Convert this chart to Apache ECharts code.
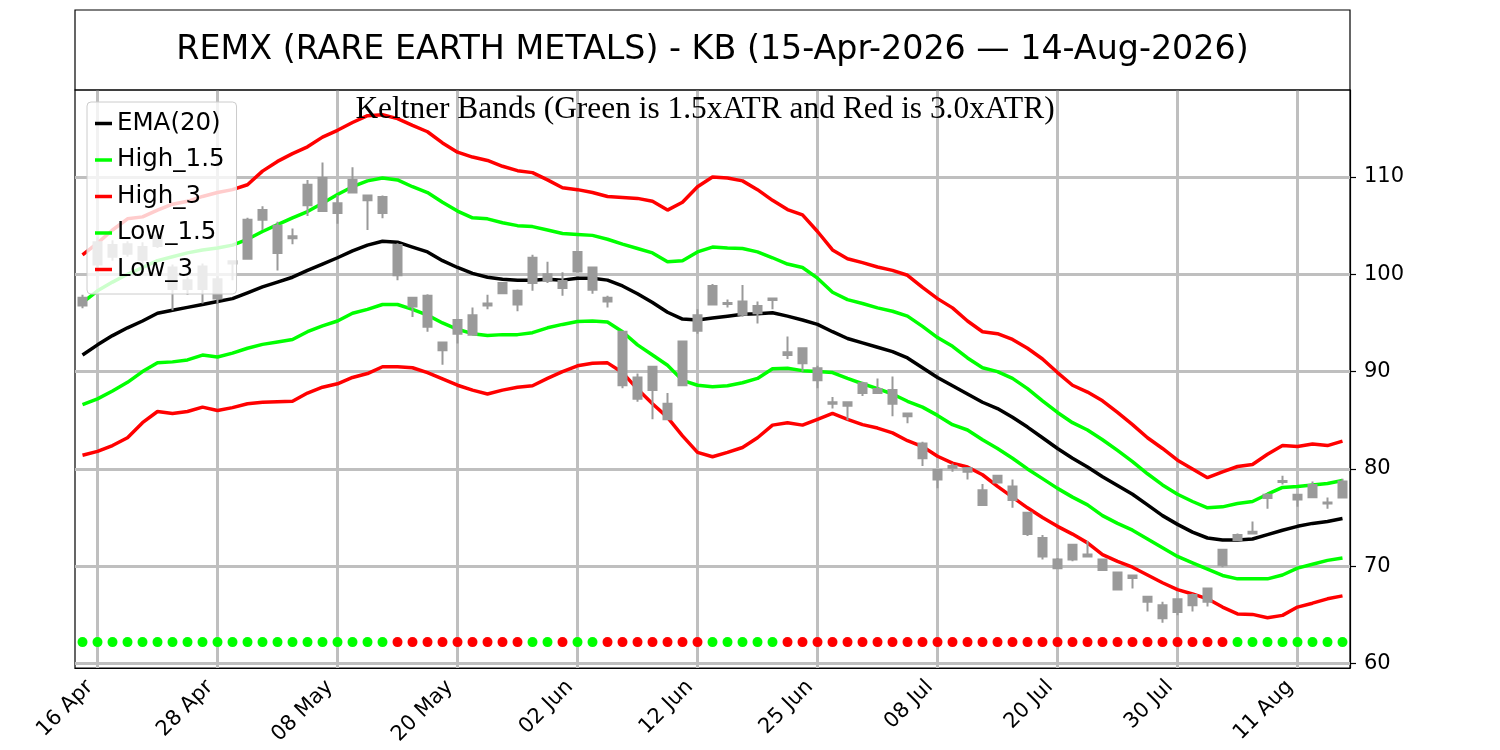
<!DOCTYPE html>
<html>
<head>
<meta charset="utf-8">
<title>REMX Keltner Bands</title>
<script src="https://cdn.jsdelivr.net/npm/echarts@6/dist/echarts.min.js"></script>
<style>
  html, body { margin: 0; padding: 0; background: #fff; }
  #chart { width: 1500px; height: 750px; }
</style>
</head>
<body>
<div id="chart"></div>
<script>
// trading days, 15 Apr 2026 .. 14 Aug 2026
var dates = [
  '15 Apr','16 Apr','17 Apr','20 Apr','21 Apr','22 Apr','23 Apr','24 Apr','27 Apr','28 Apr','29 Apr','30 Apr',
  '01 May','04 May','05 May','06 May','07 May','08 May','11 May','12 May','13 May','14 May','15 May','18 May',
  '19 May','20 May','21 May','22 May','26 May','27 May','28 May','29 May',
  '01 Jun','02 Jun','03 Jun','04 Jun','05 Jun','08 Jun','09 Jun','10 Jun','11 Jun','12 Jun','15 Jun','16 Jun',
  '17 Jun','18 Jun','22 Jun','23 Jun','24 Jun','25 Jun','26 Jun','29 Jun','30 Jun',
  '01 Jul','02 Jul','06 Jul','07 Jul','08 Jul','09 Jul','10 Jul','13 Jul','14 Jul','15 Jul','16 Jul','17 Jul',
  '20 Jul','21 Jul','22 Jul','23 Jul','24 Jul','27 Jul','28 Jul','29 Jul','30 Jul','31 Jul',
  '03 Aug','04 Aug','05 Aug','06 Aug','07 Aug','10 Aug','11 Aug','12 Aug','13 Aug','14 Aug'
];

// candles: [open, close, low, high]
var ohlc = [
  [96.8, 97.6, 96.5, 97.9], [101.0, 103.3, 100.6, 103.8], [103.0, 101.8, 101.4, 103.5], [102.1, 103.1, 101.8, 103.4],
  [102.8, 101.5, 100.6, 103.3], [102.9, 104.0, 102.7, 104.3], [100.7, 98.5, 96.3, 101.0], [99.4, 98.5, 97.9, 99.7],
  [98.5, 100.8, 97.0, 101.1], [99.5, 97.5, 97.0, 99.8], [101.35, 101.1, 99.4, 101.4], [101.6, 105.6, 101.5, 105.8],
  [105.6, 106.6, 104.55, 107.0], [105.0, 102.2, 100.4, 105.4], [103.9, 103.7, 103.1, 104.7], [107.1, 109.2, 106.0, 109.7],
  [106.5, 109.9, 106.4, 111.5], [107.3, 106.3, 105.2, 108.15], [108.4, 109.7, 108.3, 111.0], [108.1, 107.6, 104.55, 108.15],
  [107.95, 106.3, 105.75, 108.1], [103.0, 99.9, 99.4, 103.2], [97.6, 96.7, 95.6, 97.7], [97.8, 94.6, 94.1, 97.95],
  [93.0, 92.2, 90.7, 93.05], [93.9, 95.3, 92.9, 95.35], [93.8, 95.8, 93.75, 96.6], [96.8, 97.0, 96.4, 97.9],
  [98.05, 99.1, 98.0, 99.15], [98.3, 96.9, 96.2, 98.45], [99.1, 101.7, 98.3, 102.0], [99.3, 100.0, 99.1, 101.3],
  [99.3, 98.6, 97.8, 100.2], [100.3, 102.3, 100.2, 102.35], [100.7, 98.4, 98.0, 100.8], [97.6, 97.2, 96.6, 97.8],
  [94.1, 88.6, 88.3, 94.2], [89.4, 87.2, 86.9, 89.8], [88.1, 90.5, 85.1, 90.6], [86.7, 85.1, 85.0, 87.8],
  [88.6, 93.1, 88.5, 93.15], [94.2, 95.8, 93.9, 96.4], [96.9, 98.8, 96.8, 99.0], [97.05, 96.95, 96.6, 97.4],
  [97.2, 95.85, 95.65, 98.9], [96.0, 96.75, 94.95, 97.2], [97.5, 97.35, 96.4, 97.55], [92.0, 91.7, 91.3, 93.6],
  [92.4, 90.85, 90.0, 92.45], [90.35, 89.1, 88.3, 90.6], [86.85, 86.7, 86.2, 87.4], [86.85, 86.5, 85.0, 86.9],
  [87.8, 88.8, 87.5, 88.95], [88.2, 87.8, 87.75, 89.3], [88.1, 86.7, 85.4, 89.5], [85.7, 85.4, 84.7, 85.75],
  [82.6, 81.1, 80.3, 82.8], [79.9, 78.9, 78.0, 79.95], [80.3, 80.1, 79.7, 80.55], [80.1, 79.7, 78.9, 80.15],
  [77.8, 76.3, 76.25, 78.45], [79.3, 78.6, 78.55, 79.35], [78.2, 76.8, 76.0, 78.9], [75.5, 73.3, 73.1, 75.55],
  [72.9, 71.0, 70.7, 73.2], [70.7, 69.8, 69.7, 70.85], [70.7, 72.2, 70.5, 72.25], [71.2, 71.0, 70.95, 72.6],
  [70.7, 69.6, 69.55, 70.75], [69.35, 67.6, 67.55, 69.4], [69.05, 68.8, 67.7, 69.1], [66.85, 66.35, 65.35, 66.9],
  [66.0, 64.65, 64.2, 66.35], [65.3, 66.6, 64.95, 66.7], [66.0, 67.05, 65.35, 67.2], [66.35, 67.7, 65.85, 67.75],
  [70.1, 71.7, 69.9, 71.8], [72.7, 73.2, 72.6, 73.35], [73.55, 73.35, 73.3, 74.6], [77.0, 77.35, 75.9, 77.5],
  [78.75, 78.65, 78.4, 79.3], [77.35, 76.85, 76.1, 77.4], [77.1, 78.35, 77.05, 78.7], [76.55, 76.45, 75.9, 77.05],
  [77.05, 78.7, 77.0, 79.0]
];

var ema20 = [
  91.7, 92.75, 93.7, 94.5, 95.2, 96.0, 96.3, 96.6, 96.9, 97.2, 97.5, 98.1, 98.7, 99.2, 99.7, 100.4, 101.05,
  101.7, 102.4, 103.0, 103.4, 103.3, 102.8, 102.3, 101.4, 100.7, 100.1, 99.7, 99.5, 99.4, 99.4, 99.5, 99.4,
  99.6, 99.6, 99.4, 98.8, 98.0, 97.1, 96.1, 95.4, 95.3, 95.5, 95.7, 95.9, 95.95, 96.05, 95.7, 95.3, 94.85,
  94.1, 93.4, 92.95, 92.5, 92.05, 91.4, 90.4, 89.4, 88.55, 87.7, 86.85, 86.2, 85.3, 84.3, 83.2, 82.1, 81.1,
  80.2, 79.2, 78.3, 77.4, 76.3, 75.2, 74.3, 73.5, 72.9, 72.7, 72.7, 72.8, 73.25, 73.7, 74.1, 74.4, 74.6, 74.9
];
var high15 = [
  97.1, 98.3, 99.2, 100.0, 100.7, 101.4, 101.8, 102.2, 102.5, 102.7, 103.0, 103.6, 104.4, 105.1, 105.8, 106.45,
  107.3, 108.2, 109.0, 109.6, 109.9, 109.7, 109.0, 108.4, 107.4, 106.5, 105.8, 105.7, 105.3, 105.0, 104.9, 104.55,
  104.2, 104.1, 104.0, 103.6, 103.1, 102.65, 102.2, 101.3, 101.4, 102.3, 102.8, 102.7, 102.65, 102.3, 101.7,
  101.05, 100.7, 99.6, 98.15, 97.4, 97.0, 96.55, 96.2, 95.7, 94.65, 93.5, 92.6, 91.4, 90.4, 90.0, 89.3, 88.25,
  87.0, 85.8, 84.75, 84.0, 83.0, 81.9, 80.75, 79.5, 78.35, 77.4, 76.65, 76.0, 76.1, 76.45, 76.65, 77.4, 78.1,
  78.2, 78.35, 78.5, 78.8
];
var high3 = [
  102.0, 103.2, 104.55, 105.7, 105.9, 106.6, 107.2, 107.5, 108.0, 108.4, 108.7, 109.2, 110.6, 111.6, 112.4,
  113.1, 114.1, 114.8, 115.6, 116.3, 116.4, 116.0, 115.3, 114.65, 113.5, 112.55, 112.05, 111.7, 111.1, 110.65,
  110.45, 109.7, 108.9, 108.7, 108.4, 108.0, 107.9, 107.8, 107.5, 106.6, 107.4, 109.0, 110.0, 109.9, 109.6,
  108.7, 107.6, 106.65, 106.1, 104.4, 102.5, 101.6, 101.2, 100.75, 100.4, 99.9, 98.65, 97.5, 96.55, 95.2, 94.1,
  93.9, 93.3, 92.4, 91.3, 89.9, 88.6, 87.9, 87.0, 85.8, 84.55, 83.2, 82.1, 80.9, 80.0, 79.1, 79.7, 80.25, 80.45,
  81.5, 82.4, 82.3, 82.55, 82.4, 82.85
];
var low15 = [
  86.6, 87.2, 88.0, 88.9, 90.0, 90.9, 91.0, 91.2, 91.7, 91.5, 91.9, 92.4, 92.8, 93.05, 93.3, 94.1, 94.7, 95.2,
  96.0, 96.4, 96.9, 96.9, 96.4, 95.8, 95.0, 94.35, 93.9, 93.7, 93.8, 93.8, 94.0, 94.5, 94.85, 95.15, 95.2, 95.1,
  94.1, 92.75, 91.7, 90.65, 89.1, 88.6, 88.45, 88.55, 88.85, 89.3, 90.3, 90.35, 90.1, 90.0, 89.9, 89.3, 88.75,
  88.25, 87.7, 86.95, 86.35, 85.5, 84.55, 84.0, 83.0, 82.1, 81.1, 80.0, 79.0, 78.0, 77.1, 76.3, 75.2, 74.4, 73.7,
  72.8, 71.9, 71.0, 70.35, 69.7, 69.05, 68.7, 68.7, 68.7, 69.1, 69.8, 70.2, 70.6, 70.85
];
var low3 = [
  81.4, 81.8, 82.4, 83.2, 84.75, 85.9, 85.7, 85.9, 86.35, 86.0, 86.3, 86.7, 86.85, 86.9, 86.95, 87.8, 88.4,
  88.75, 89.4, 89.8, 90.5, 90.5, 90.4, 89.9, 89.25, 88.6, 88.1, 87.7, 88.1, 88.4, 88.55, 89.3, 90.0, 90.6, 90.85,
  90.9, 89.9, 88.2, 86.7, 85.3, 83.4, 81.7, 81.25, 81.7, 82.2, 83.2, 84.5, 84.75, 84.5, 85.1, 85.7, 85.1, 84.55,
  84.2, 83.7, 82.9, 82.3, 81.3, 80.6, 80.2, 79.4, 78.2, 77.1, 76.0, 75.0, 74.1, 73.3, 72.4, 71.2, 70.5, 69.9,
  69.1, 68.3, 67.6, 67.15, 66.65, 65.8, 65.1, 65.05, 64.7, 64.95, 65.8, 66.2, 66.65, 66.95
];
// signal dots along the bottom: 1 = green, 0 = red
var signal = [
  1,1,1,1,1,1,1,1,1,1,1,1,1,1,1,1,1,1,1,1,1,
  0,0,0,0,0,0,0,0,0,
  1,1,0,1,1,
  0,0,0,0,0,0,0,
  1,1,1,1,1,
  0,0,0,0,0,0,0,0,0,0,0,0,0,0,0,0,0,0,0,0,0,0,0,0,0,0,0,0,0,0,
  1,1,1,1,1,1,1,1
];
var yTicks = [60, 70, 80, 90, 100, 110];
var DOT_LEVEL = 62.2;

var GRID = '#bfbfbf';
var CANDLE = '#9a9a9a';
function isTick(idx) { return idx % 8 === 1; }

var chart = echarts.init(document.getElementById('chart'));

var gridLines = [];
dates.forEach(function (d, i) { if (isTick(i)) gridLines.push({ xAxis: d }); });
yTicks.forEach(function (v) { gridLines.push({ yAxis: v }); });

function band(name, data, color) {
  return {
    name: name, type: 'line', data: data, symbol: 'none', z: 4,
    lineStyle: { color: color, width: 3.5 }, itemStyle: { color: color }
  };
}

var option = {
  animation: false,
  backgroundColor: '#ffffff',
  textStyle: { fontFamily: 'DejaVu Sans' },
  grid: { left: 75, right: 150, top: 90, bottom: 82, show: true, borderColor: '#000', borderWidth: 1.2, backgroundColor: 'transparent' },
  legend: {
    data: ['EMA(20)', 'High_1.5', 'High_3', 'Low_1.5', 'Low_3'],
    orient: 'vertical', left: 87, top: 102, z: 20,
    icon: 'rect', itemWidth: 17, itemHeight: 3.5, itemGap: 11.5,
    padding: [9, 12, 12, 8],
    backgroundColor: 'rgba(255,255,255,0.8)', borderColor: '#cccccc', borderWidth: 1, borderRadius: 4,
    textStyle: { fontSize: 24.5, lineHeight: 25, color: '#000', fontFamily: 'DejaVu Sans' }
  },
  xAxis: {
    type: 'category', data: dates, boundaryGap: true,
    axisLine: { lineStyle: { color: '#000', width: 1.2 } },
    axisTick: { alignWithLabel: true, interval: function (i) { return isTick(i); }, length: 6, lineStyle: { color: '#000', width: 1.2 } },
    axisLabel: { interval: function (i) { return isTick(i); }, rotate: 45, fontSize: 21, color: '#000', margin: 8, padding: [0, 11, 0, 0] },
    splitLine: { show: false }
  },
  yAxis: {
    type: 'value', position: 'right', min: 59.54, max: 118.94, scale: true,
    axisLine: { show: true, lineStyle: { color: '#000', width: 1.2 } },
    axisTick: { show: true, customValues: yTicks, length: 6, lineStyle: { color: '#000', width: 1.2 } },
    axisLabel: { customValues: yTicks, fontSize: 21, color: '#000', margin: 14 },
    splitLine: { show: false }
  },
  graphic: [
    { type: 'rect', z: 100, shape: { x: 75, y: 10, width: 1275, height: 80 }, style: { fill: 'none', stroke: '#000', lineWidth: 1.2 } },
    { type: 'text', z: 100, x: 712.5, y: 50,
      style: { text: 'REMX (RARE EARTH METALS) - KB (15-Apr-2026 \u2014 14-Aug-2026)', fill: '#000',
               font: '33.3px "DejaVu Sans"', textAlign: 'center', textVerticalAlign: 'middle', align: 'center', verticalAlign: 'middle' } },
    { type: 'text', z: 100, x: 705, y: 110,
      style: { text: 'Keltner Bands (Green is 1.5xATR and Red is 3.0xATR)', fill: '#000',
               font: '31.4px "Liberation Serif"', textAlign: 'center', textVerticalAlign: 'middle', align: 'center', verticalAlign: 'middle' } }
  ],
  series: [
    {
      name: 'signal', type: 'scatter', z: 3, symbolSize: 10,
      data: signal.map(function (s, i) {
        return { value: [i, DOT_LEVEL], itemStyle: { color: s ? '#00ff00' : '#ff0000', opacity: 1 } };
      }),
      markLine: {
        silent: true, z: 1, symbol: ['none', 'none'], label: { show: false },
        lineStyle: { color: GRID, width: 3, type: 'solid' },
        data: gridLines
      }
    },
    band('EMA(20)', ema20, '#000000'),
    band('High_1.5', high15, '#00ff00'),
    band('High_3', high3, '#ff0000'),
    band('Low_1.5', low15, '#00ff00'),
    band('Low_3', low3, '#ff0000'),
    {
      name: 'price', type: 'candlestick', z: 5, data: ohlc, barWidth: 8,
      itemStyle: { color: CANDLE, color0: CANDLE, borderColor: CANDLE, borderColor0: CANDLE, borderWidth: 2 }
    }
  ]
};

chart.setOption(option);
</script>
</body>
</html>
